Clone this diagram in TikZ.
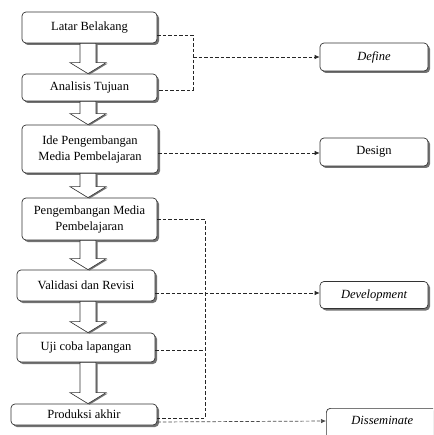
\documentclass[tikz,border=0pt]{standalone}
\usepackage{fontspec}
\setmainfont{Liberation Serif}
\usetikzlibrary{shadows,arrows.meta,calc}
\tikzset{
  box/.style={draw=black!80, line width=0.7pt, rounded corners=4pt, fill=white,
    drop shadow={shadow xshift=2pt, shadow yshift=-2pt, fill=black!55, opacity=1},
    align=center, font=\fontsize{12.5}{16}\selectfont, inner sep=2pt},
  dline/.style={draw=black!85, line width=0.7pt, dash pattern=on 3.5pt off 2pt},
  tipped/.style={-{Latex[length=5pt,width=4.5pt]}},
  barrow/.style={draw=black!80, line width=0.6pt, fill=white,
    drop shadow={shadow xshift=1.5pt, shadow yshift=-1pt, fill=black!55, opacity=1}}
}
\newcommand\blockarr[2]{%
  \draw[barrow] let \p1=(#1.south), \p2=(#2.north) in
    (80pt,\y1) -- (96pt,\y1) -- (96pt,\y2+11pt) -- (106pt,\y2+11pt) -- (88pt,\y2)
    -- (70pt,\y2+11pt) -- (80pt,\y2+11pt) -- cycle;}
\begin{document}
\begin{tikzpicture}[x=1pt,y=-1pt]
\clip (0,0) rectangle (433,435);
\fill[white] (0,0) rectangle (433,435);
% left column
\node[box, minimum width=135pt, minimum height=31pt] (lb) at (89.5,27.5) {Latar Belakang};
\node[box, minimum width=135pt, minimum height=27pt] (at) at (89.5,87.5) {Analisis Tujuan};
\node[box, minimum width=136pt, minimum height=48pt] (ide) at (90,149) {Ide Pengembangan\\Media Pembelajaran};
\node[box, minimum width=135pt, minimum height=42pt] (pm) at (89.5,219) {Pengembangan Media\\Pembelajaran};
\node[box, minimum width=138pt, minimum height=31pt] (vr) at (86,285.5) {Validasi dan Revisi};
\node[box, minimum width=138pt, minimum height=29pt] (uji) at (86,347.5) {Uji coba lapangan};
\node[box, minimum width=146pt, minimum height=21pt] (pa) at (84,414.5) {Produksi akhir};
% right column
\node[box, minimum width=108pt, minimum height=28pt, font=\fontsize{12.5}{16}\selectfont\itshape] (def) at (374,57) {Define};
\node[box, minimum width=108pt, minimum height=28pt] (des) at (374,152) {Design};
\node[box, minimum width=108pt, minimum height=27pt, font=\fontsize{12.5}{16}\selectfont\itshape] (dev) at (374,295) {Development};
\node[box, minimum width=112pt, text height=12pt, text depth=22pt, inner ysep=4pt,
  anchor=north west, font=\fontsize{12.5}{16}\selectfont\itshape] (dis) at (326,408) {Disseminate};
% block arrows
\blockarr{lb}{at}
\blockarr{at}{ide}
\blockarr{ide}{pm}
\blockarr{pm}{vr}
\blockarr{vr}{uji}
\blockarr{uji}{pa}
% junction coordinates
\coordinate (j1) at (193,57);
% dashed connectors
\draw[dline] (lb.east |- 0,35) -- (193,35) -- (193,90) -- (at.east |- 0,90);
\draw[dline, tipped] (j1) -- (def.west);
\draw[dline, tipped] (ide.east |- 0,153) -- (des.west |- 0,153);
\draw[dline] (pm.east |- 0,219) -- (205,219) -- (205,418) -- (pa.east |- 0,418);
\draw[dline, tipped] (vr.east |- 0,293) -- (dev.west |- 0,293);
\draw[dline] (uji.east |- 0,350) -- (205,350);
\draw[dline, draw=black!70, tipped] (pa.east |- 0,422) -- (dis.west |- 0,421);
\end{tikzpicture}
\end{document}
